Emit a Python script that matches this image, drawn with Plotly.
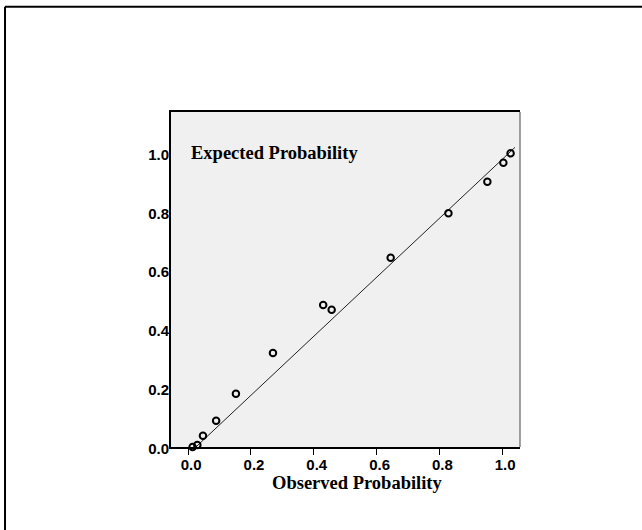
import plotly.graph_objects as go

# Data
observed = [0.014, 0.029, 0.047, 0.089, 0.152, 0.270, 0.430, 0.457, 0.645, 0.829, 0.953, 1.004, 1.027]
expected = [0.000, 0.007, 0.038, 0.089, 0.181, 0.319, 0.482, 0.466, 0.642, 0.793, 0.900, 0.965, 0.997]

# Reference (diagonal) line end points
ref_x = [0.0035, 1.041]
ref_y = [-0.021, 1.017]

tick_vals = [0.0, 0.2, 0.4, 0.6, 0.8, 1.0]
tick_text = ["0.0", "0.2", "0.4", "0.6", "0.8", "1.0"]

fig = go.Figure()

fig.add_trace(go.Scatter(
    x=ref_x, y=ref_y, mode="lines",
    line=dict(color="#222222", width=1),
    hoverinfo="skip", showlegend=False,
))

fig.add_trace(go.Scatter(
    x=observed, y=expected, mode="markers",
    marker=dict(symbol="circle-open", size=6.5, color="black",
                line=dict(color="black", width=2)),
    cliponaxis=False, showlegend=False,
))

tick_font = dict(family="Arial", size=15, color="black", weight="bold")

fig.update_layout(
    width=642, height=530,
    margin=dict(l=171, r=122, t=112, b=83),
    paper_bgcolor="white",
    plot_bgcolor="#f0f0f0",
    xaxis=dict(
        range=[-0.0548, 1.057],
        tickvals=tick_vals, ticktext=tick_text,
        ticks="outside", ticklen=6, tickwidth=1, tickcolor="black",
        ticklabelstandoff=-3, ticklabelshift=3,
        tickfont=tick_font,
        showgrid=False, zeroline=False,
        showline=True, linecolor="black", linewidth=2, mirror=True,
    ),
    yaxis=dict(
        range=[0.0, 1.137],
        tickvals=tick_vals, ticktext=tick_text,
        ticks="", ticklabelstandoff=-3, ticklabelshift=2,
        tickfont=tick_font,
        showgrid=False, zeroline=False,
        showline=True, linecolor="black", linewidth=2, mirror=False,
    ),
    font=dict(family="Times New Roman", color="black"),
    shapes=[
        # right frame edge (grey)
        dict(type="line", xref="paper", yref="paper", x0=1, x1=1, y0=0, y1=1,
             line=dict(color="#808080", width=1.5)),
        # outer border: top and left
        dict(type="line", xref="paper", yref="paper", x0=-0.4756, x1=1.36, y0=1.3143, y1=1.3143,
             line=dict(color="black", width=2)),
        dict(type="line", xref="paper", yref="paper", x0=-0.4756, x1=-0.4756, y0=-0.26, y1=1.3143,
             line=dict(color="black", width=2)),
    ],
    annotations=[
        dict(text="<b>Expected Probability</b>", xref="paper", yref="paper",
             x=0.0524, y=0.8767, xanchor="left", yanchor="middle", showarrow=False,
             font=dict(family="Times New Roman", size=18.5, color="black")),
        dict(text="<b>Observed Probability</b>", xref="paper", yref="paper",
             x=0.5358, y=-0.106, xanchor="center", yanchor="middle", showarrow=False,
             font=dict(family="Times New Roman", size=18.5, color="black")),
    ],
)

fig.write_html("out.html", config={"displayModeBar": False},
               post_script="document.body.style.margin='0';")
